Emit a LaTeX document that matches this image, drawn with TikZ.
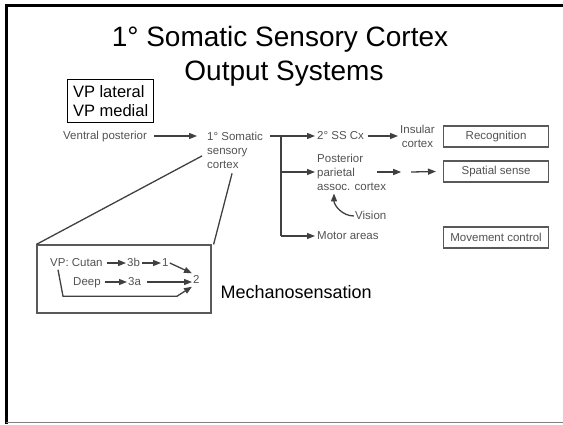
\documentclass[tikz,border=0pt]{standalone}
\usepackage{fontspec}
\setmainfont{Liberation Sans}
\usetikzlibrary{arrows.meta}
\definecolor{txtgray}{gray}{0.32}
\definecolor{lngray}{gray}{0.25}
\definecolor{bxgray}{gray}{0.35}

\begin{document}
\begin{tikzpicture}[x=1pt,y=-1pt,
    lbl/.style={font=\fontsize{11.5}{14}\selectfont, text=txtgray, inner sep=1pt, text height=8.5pt, text depth=2.5pt},
    mlbl/.style={font=\fontsize{11.5}{14}\selectfont, text=txtgray, inner sep=1pt},
    outbox/.style={draw=bxgray, line width=1.2pt, font=\fontsize{11.5}{14}\selectfont, text=txtgray, minimum width=105pt, minimum height=21pt, inner sep=0pt, anchor=west},
    arr/.style={draw=lngray, line width=1.3pt, -{Triangle[length=8pt,width=6pt]}},
    plain/.style={draw=lngray, line width=1.3pt}]
  \useasboundingbox (0,0) rectangle (563,424);
  % slide frame
  \draw[line width=3pt] (563,5) -- (6,5) -- (6,424);
  \draw[gray, line width=1pt] (6,422.5) -- (563,422.5);
  % title
  \node[font=\fontsize{28}{32}\selectfont, anchor=base] (title1) at (280,46) {1° Somatic Sensory Cortex};
  \node[font=\fontsize{28}{32}\selectfont, anchor=base] (title2) at (284,80) {Output Systems};
  \node[draw, line width=1pt, align=left, anchor=north west, font=\fontsize{16.5}{19}\selectfont,
        inner xsep=5.5pt, inner ysep=6pt] (vplat) at (67,79) {VP lateral\\VP medial};

  % main row
  \node[lbl, anchor=west] (vpost) at (62,136) {Ventral posterior};
  \node[mlbl, align=left, anchor=north west] (soma) at (206,130.5) {1° Somatic\\sensory\\cortex};
  \node[lbl, anchor=west] (ss2) at (316,136) {2° SS Cx};
  \node[mlbl, align=center, anchor=west] (insular) at (399,136) {Insular\\cortex};
  \node[outbox] (recog) at (443,136.5) {Recognition};
  \node[mlbl, align=left, anchor=west] (parietal) at (316,172) {Posterior\\parietal\\assoc. cortex};
  \node[outbox] (spatial) at (443,171.5) {Spatial sense};
  \node[lbl, anchor=west] (vision) at (354,216) {Vision};
  \node[lbl, anchor=west] (motor) at (316,236) {Motor areas};
  \node[outbox] (movement) at (443,237.5) {Movement control};
  \coordinate (fork) at (281,136);
  \coordinate (fork2) at (281,172);

  \draw[arr, shorten >=2pt] ([xshift=6pt]vpost.east) -- ([xshift=-7pt]vpost.east -| soma.west);
  \draw[plain] ([xshift=6pt]soma.north east |- fork) -- (fork);
  \draw[arr, shorten >=1pt] (fork) -- (fork -| ss2.west);
  \draw[plain] (fork) -- (fork |- motor.west);
  \draw[arr, shorten >=1pt] (fork2) -- (fork2 -| parietal.west);
  \draw[arr, shorten >=1pt] (fork |- motor.west) -- (motor.west);
  \draw[arr, shorten >=1pt] ([xshift=3pt]ss2.east) -- (ss2.east -| insular.west);
  \draw[arr] ([xshift=-10pt]parietal.east) -- ([xshift=14pt]parietal.east);
  \draw[arr] ([xshift=24pt]parietal.east) -- ([xshift=-7pt]spatial.west);
  \draw[arr] (vision.west) to[out=180, in=-90] ([xshift=18pt, yshift=-2pt]parietal.south west);

  % enlarged view of the cortex
  \node[draw=bxgray, line width=1.2pt, minimum width=174pt, minimum height=68pt] (zoombox) at (124,279) {};
  \draw[plain] ([xshift=-4pt, yshift=-6pt]soma.west) -- (zoombox.north west);
  \draw[plain] ([xshift=-3pt, yshift=-4pt]soma.south) -- ([xshift=2pt]zoombox.north east);
  \node[lbl, anchor=west] (vpc) at (49,263) {VP: Cutan};
  \node[lbl, anchor=west] (a3b) at (126,263) {3b};
  \node[lbl, anchor=west] (a1) at (161,263) {1};
  \node[lbl, anchor=west] (a2) at (192,280) {2};
  \node[lbl, anchor=west] (deep) at (72,282) {Deep};
  \node[lbl, anchor=west] (a3a) at (127,282) {3a};
  \draw[arr] ([xshift=3pt]vpc.east) -- (a3b.west);
  \draw[arr] ([xshift=1pt]a3b.east) -- (a1.west);
  \draw[arr] (a1.east) -- (a2.north west);
  \draw[arr] ([xshift=3pt]deep.east) -- (a3a.west);
  \draw[arr] ([xshift=5pt]a3a.east) -- (a3a.east -| a2.west);
  \draw[arr] ([xshift=9pt]vpc.south west) -- ++(5,26.5) -- ++(114,0) -- (a2.south west);
  \node[font=\fontsize{18}{22}\selectfont, anchor=west] (mechano) at (217,292) {Mechanosensation};
\end{tikzpicture}
\end{document}
